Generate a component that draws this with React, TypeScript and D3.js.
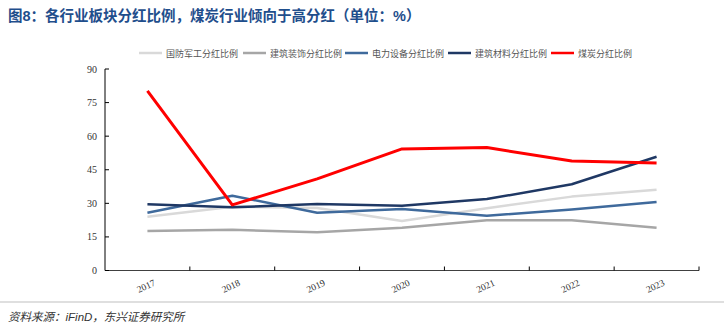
import React from "react";
import * as d3 from "d3";

const years = ["2017", "2018", "2019", "2020", "2021", "2022", "2023"];
const seriesNames = ["国防军工分红比例", "建筑装饰分红比例", "电力设备分红比例", "建筑材料分红比例", "煤炭分红比例"];
const defense = [24.0, 28.5, 27.9, 22.1, 27.8, 33.0, 36.1];
const decoration = [17.6, 18.2, 17.1, 19.1, 22.4, 22.4, 19.1];
const power = [25.8, 33.4, 25.8, 27.5, 24.5, 27.2, 30.6];
const materials = [29.6, 28.2, 29.7, 28.9, 31.9, 38.5, 50.8];
const coal = [80.2, 29.3, 40.9, 54.3, 54.9, 48.9, 48.0];
const yTicks = [0, 15, 30, 45, 60, 75, 90];
const colors = ["#d9d9d9", "#a6a6a6", "#3f6a9c", "#1f3864", "#ff0000"];

export default function App() {
  const W = 724, H = 323;
  const x0 = 105, x1 = 699, yTop = 69, yBot = 270.5;
  const x = d3.scaleBand<string>().domain(years).range([x0, x1]);
  const y = d3.scaleLinear().domain([0, 90]).range([yBot, yTop]);
  const data = [defense, decoration, power, materials, coal];
  const line = d3.line<number>().x((_, i) => (x(years[i]) as number) + x.bandwidth() / 2).y((v) => y(v));
  const legendX = [139, 243, 345, 448, 551];
  const serif = "'Liberation Serif', 'DejaVu Serif', serif";
  const sans = "'Liberation Sans', Arial, 'Noto Sans CJK SC', sans-serif";
  return (
    <svg width={W} height={H} style={{ position: "absolute", left: 0, top: 0, background: "#fff" }}>
      <text x={8} y={21} fontSize={14.5} fontWeight="bold" fill="#1f4e8c" fontFamily={sans}>
        图8：各行业板块分红比例，煤炭行业倾向于高分红（单位：%）
      </text>
      {seriesNames.map((n, i) => (
        <g key={n}>
          <line x1={legendX[i]} x2={legendX[i] + 23} y1={53} y2={53} stroke={colors[i]} strokeWidth={2.5} />
          <text x={legendX[i] + 27} y={56.5} fontSize={9} fill="#555" fontFamily={sans}>{n}</text>
        </g>
      ))}
      <line x1={x0} x2={x0} y1={yTop} y2={yBot} stroke="#000" strokeWidth={1} />
      <line x1={x0} x2={x1} y1={yBot} y2={yBot} stroke="#404040" strokeWidth={1.2} />
      {yTicks.map((t) => (
        <g key={t}>
          <line x1={x0} x2={x0 + 4} y1={y(t)} y2={y(t)} stroke="#000" />
          <text x={97} y={y(t) + 3.5} fontSize={10} textAnchor="end" fill="#333" fontFamily={serif}>{t}</text>
        </g>
      ))}
      {years.map((yr, i) => (
        <line key={"t" + yr} x1={x0 + (i + 1) * x.bandwidth()} x2={x0 + (i + 1) * x.bandwidth()} y1={yBot} y2={yBot - 4} stroke="#000" />
      ))}
      {years.map((yr) => {
        const cx = (x(yr) as number) + x.bandwidth() / 2;
        return (
          <text key={yr} transform={`translate(${cx},${289}) rotate(-25)`} fontSize={9.5} textAnchor="middle" fill="#333" fontFamily={serif}>{yr}</text>
        );
      })}
      {data.map((d, i) => (
        <path key={i} d={line(d) as string} fill="none" stroke={colors[i]} strokeWidth={i === 4 ? 3 : 2.5} strokeLinejoin="round" />
      ))}
      <line x1={0} x2={724} y1={302} y2={302} stroke="#bfbfbf" strokeWidth={1} />
      <text x={8} y={321} fontSize={11.5} fill="#333" fontStyle="italic" fontFamily={sans}>资料来源：iFinD，东兴证券研究所</text>
    </svg>
  );
}
